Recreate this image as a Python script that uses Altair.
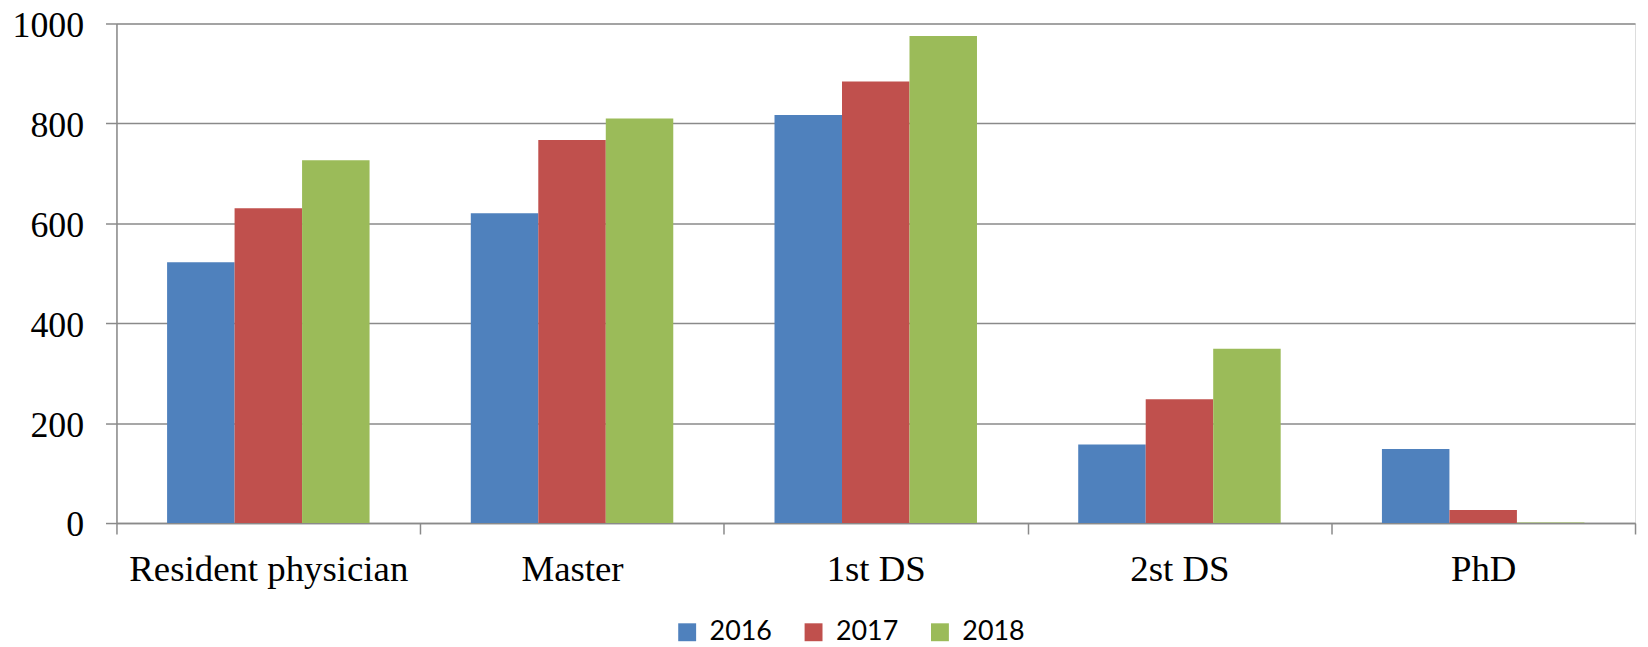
import altair as alt
import pandas as pd

categories = ["Resident physician", "Master", "1st DS", "2st DS", "PhD"]
years = ["2016", "2017", "2018"]
v2016 = [522, 620, 817, 157, 148]
v2017 = [630, 767, 884, 248, 26]
v2018 = [726, 810, 975, 349, 1]
colors = ["#4F81BD", "#C0504D", "#9BBB59"]
y_ticks = [0, 200, 400, 600, 800, 1000]

rows = []
for yr, vals in zip(years, [v2016, v2017, v2018]):
    for c, v in zip(categories, vals):
        rows.append({"category": c, "year": yr, "value": v})
df = pd.DataFrame(rows)

grid_color = "#8a8a8a"

chart = alt.Chart(df).mark_bar().encode(
    x=alt.X("category:N", sort=categories, title=None,
            scale=alt.Scale(paddingInner=0, paddingOuter=0),
            axis=alt.Axis(labelAngle=0, labelFont="Liberation Serif", labelFontSize=37,
                          labelColor="black", tickBand="extent", tickSize=11,
                          tickColor=grid_color, tickWidth=1.5, domainColor=grid_color,
                          domainWidth=1.5, labelPadding=18, labelLimit=0, grid=False)),
    xOffset=alt.XOffset("year:N", sort=years,
                        scale=alt.Scale(paddingInner=0, paddingOuter=0.75)),
    y=alt.Y("value:Q", title=None,
            scale=alt.Scale(domain=[0, 1000], nice=False),
            axis=alt.Axis(values=y_ticks, format="d", labelFont="Liberation Serif",
                          labelFontSize=36, labelColor="black", tickSize=11,
                          tickColor=grid_color, tickWidth=1.5, domainColor=grid_color,
                          domainWidth=1.5, gridColor=grid_color, gridWidth=1.5,
                          labelPadding=22, labelLimit=0, labelOffset=2)),
    color=alt.Color("year:N", sort=years, title=None,
                    scale=alt.Scale(domain=years, range=colors),
                    legend=alt.Legend(orient="none", direction="horizontal",
                                      legendX=560, legendY=598, padding=0,
                                      symbolType="square", symbolSize=324,
                                      symbolStrokeWidth=0, symbolOpacity=1,
                                      labelFont="Lato", labelFontSize=27,
                                      labelColor="black", labelOffset=9,
                                      columnPadding=28)),
).properties(
    width=1526,
    height=502,
    autosize=alt.AutoSizeParams(type="none"),
    padding={"left": 109, "top": 14, "right": 5, "bottom": 124},
).configure_view(strokeWidth=0).configure(background="white")

chart.save("out.html", embed_options={"renderer": "svg", "actions": False})
